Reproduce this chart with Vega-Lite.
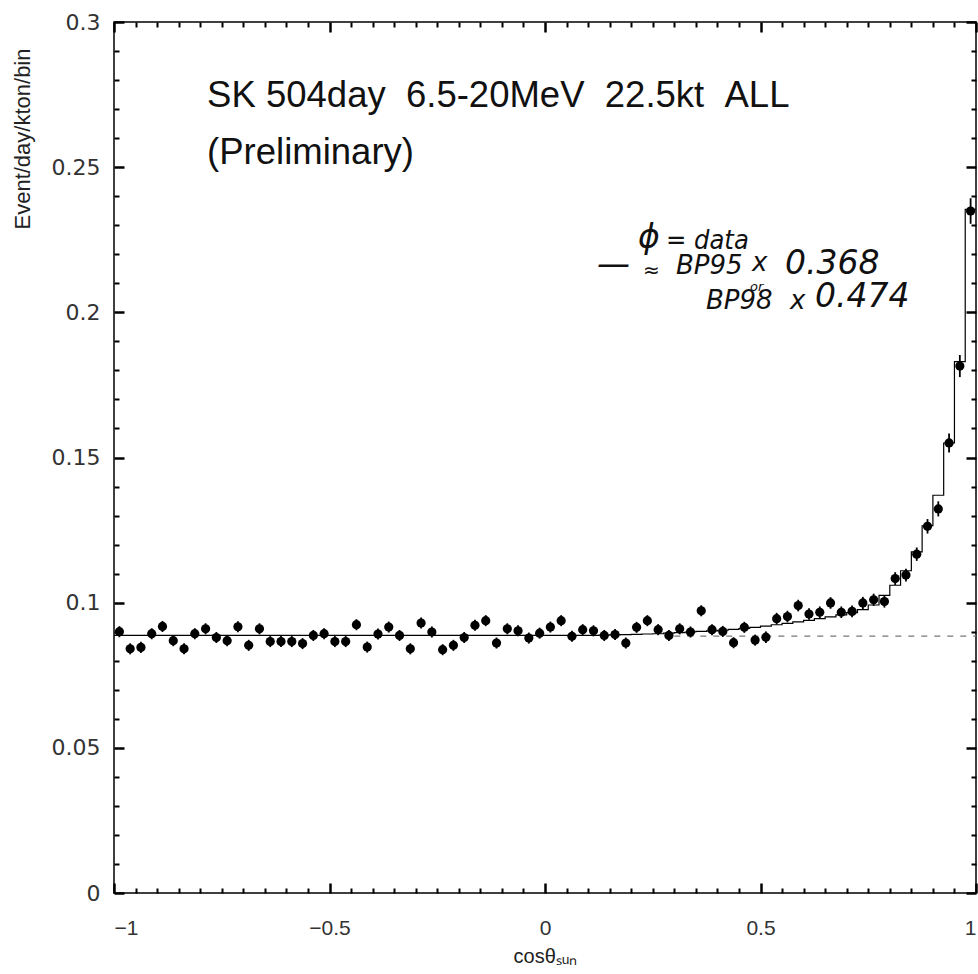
{
  "$schema": "https://vega.github.io/schema/vega-lite/v6.json",
  "width": 862,
  "height": 871,
  "autosize": "none",
  "padding": {"left": 114, "top": 22, "right": 2, "bottom": 81},
  "background": "white",
  "config": {
    "view": {"stroke": "black", "strokeWidth": 1.5},
    "axis": {"grid": false, "domain": false, "ticks": true, "zindex": 2, "tickOpacity": 1, "labelColor": "#333", "labelFont": "Liberation Sans", "titleFont": "Liberation Sans", "titleFontWeight": "normal", "titleColor": "#222"}
  },
  "datasets": {
    "bins": [
      {"cos": -0.9875, "rate": 0.0900, "lo": 0.0881, "hi": 0.0919},
      {"cos": -0.9625, "rate": 0.0841, "lo": 0.0822, "hi": 0.0860},
      {"cos": -0.9375, "rate": 0.0846, "lo": 0.0827, "hi": 0.0865},
      {"cos": -0.9125, "rate": 0.0893, "lo": 0.0874, "hi": 0.0912},
      {"cos": -0.8875, "rate": 0.0918, "lo": 0.0899, "hi": 0.0937},
      {"cos": -0.8625, "rate": 0.0869, "lo": 0.0850, "hi": 0.0888},
      {"cos": -0.8375, "rate": 0.0841, "lo": 0.0822, "hi": 0.0860},
      {"cos": -0.8125, "rate": 0.0893, "lo": 0.0874, "hi": 0.0912},
      {"cos": -0.7875, "rate": 0.0910, "lo": 0.0891, "hi": 0.0929},
      {"cos": -0.7625, "rate": 0.0880, "lo": 0.0861, "hi": 0.0899},
      {"cos": -0.7375, "rate": 0.0869, "lo": 0.0850, "hi": 0.0888},
      {"cos": -0.7125, "rate": 0.0917, "lo": 0.0898, "hi": 0.0936},
      {"cos": -0.6875, "rate": 0.0853, "lo": 0.0834, "hi": 0.0872},
      {"cos": -0.6625, "rate": 0.0910, "lo": 0.0891, "hi": 0.0929},
      {"cos": -0.6375, "rate": 0.0866, "lo": 0.0847, "hi": 0.0885},
      {"cos": -0.6125, "rate": 0.0866, "lo": 0.0847, "hi": 0.0885},
      {"cos": -0.5875, "rate": 0.0866, "lo": 0.0847, "hi": 0.0885},
      {"cos": -0.5625, "rate": 0.0859, "lo": 0.0840, "hi": 0.0878},
      {"cos": -0.5375, "rate": 0.0887, "lo": 0.0868, "hi": 0.0906},
      {"cos": -0.5125, "rate": 0.0893, "lo": 0.0874, "hi": 0.0912},
      {"cos": -0.4875, "rate": 0.0866, "lo": 0.0847, "hi": 0.0885},
      {"cos": -0.4625, "rate": 0.0866, "lo": 0.0847, "hi": 0.0885},
      {"cos": -0.4375, "rate": 0.0924, "lo": 0.0905, "hi": 0.0943},
      {"cos": -0.4125, "rate": 0.0847, "lo": 0.0828, "hi": 0.0866},
      {"cos": -0.3875, "rate": 0.0892, "lo": 0.0873, "hi": 0.0911},
      {"cos": -0.3625, "rate": 0.0916, "lo": 0.0897, "hi": 0.0935},
      {"cos": -0.3375, "rate": 0.0887, "lo": 0.0868, "hi": 0.0906},
      {"cos": -0.3125, "rate": 0.0841, "lo": 0.0822, "hi": 0.0860},
      {"cos": -0.2875, "rate": 0.0930, "lo": 0.0911, "hi": 0.0949},
      {"cos": -0.2625, "rate": 0.0899, "lo": 0.0880, "hi": 0.0918},
      {"cos": -0.2375, "rate": 0.0838, "lo": 0.0819, "hi": 0.0857},
      {"cos": -0.2125, "rate": 0.0853, "lo": 0.0834, "hi": 0.0872},
      {"cos": -0.1875, "rate": 0.0880, "lo": 0.0861, "hi": 0.0899},
      {"cos": -0.1625, "rate": 0.0922, "lo": 0.0903, "hi": 0.0941},
      {"cos": -0.1375, "rate": 0.0938, "lo": 0.0919, "hi": 0.0957},
      {"cos": -0.1125, "rate": 0.0861, "lo": 0.0842, "hi": 0.0880},
      {"cos": -0.0875, "rate": 0.0910, "lo": 0.0891, "hi": 0.0929},
      {"cos": -0.0625, "rate": 0.0903, "lo": 0.0884, "hi": 0.0922},
      {"cos": -0.0375, "rate": 0.0878, "lo": 0.0859, "hi": 0.0897},
      {"cos": -0.0125, "rate": 0.0895, "lo": 0.0876, "hi": 0.0914},
      {"cos": 0.0125, "rate": 0.0916, "lo": 0.0897, "hi": 0.0935},
      {"cos": 0.0375, "rate": 0.0938, "lo": 0.0919, "hi": 0.0957},
      {"cos": 0.0625, "rate": 0.0884, "lo": 0.0865, "hi": 0.0903},
      {"cos": 0.0875, "rate": 0.0907, "lo": 0.0888, "hi": 0.0926},
      {"cos": 0.1125, "rate": 0.0903, "lo": 0.0884, "hi": 0.0922},
      {"cos": 0.1375, "rate": 0.0887, "lo": 0.0868, "hi": 0.0906},
      {"cos": 0.1625, "rate": 0.0890, "lo": 0.0871, "hi": 0.0909},
      {"cos": 0.1875, "rate": 0.0861, "lo": 0.0842, "hi": 0.0880},
      {"cos": 0.2125, "rate": 0.0915, "lo": 0.0896, "hi": 0.0934},
      {"cos": 0.2375, "rate": 0.0938, "lo": 0.0919, "hi": 0.0957},
      {"cos": 0.2625, "rate": 0.0907, "lo": 0.0888, "hi": 0.0926},
      {"cos": 0.2875, "rate": 0.0887, "lo": 0.0868, "hi": 0.0906},
      {"cos": 0.3125, "rate": 0.0910, "lo": 0.0891, "hi": 0.0929},
      {"cos": 0.3375, "rate": 0.0899, "lo": 0.0880, "hi": 0.0918},
      {"cos": 0.3625, "rate": 0.0972, "lo": 0.0953, "hi": 0.0991},
      {"cos": 0.3875, "rate": 0.0907, "lo": 0.0888, "hi": 0.0926},
      {"cos": 0.4125, "rate": 0.0901, "lo": 0.0882, "hi": 0.0920},
      {"cos": 0.4375, "rate": 0.0862, "lo": 0.0843, "hi": 0.0881},
      {"cos": 0.4625, "rate": 0.0915, "lo": 0.0896, "hi": 0.0934},
      {"cos": 0.4875, "rate": 0.0871, "lo": 0.0852, "hi": 0.0890},
      {"cos": 0.5125, "rate": 0.0881, "lo": 0.0861, "hi": 0.0901},
      {"cos": 0.5375, "rate": 0.0945, "lo": 0.0925, "hi": 0.0965},
      {"cos": 0.5625, "rate": 0.0952, "lo": 0.0932, "hi": 0.0972},
      {"cos": 0.5875, "rate": 0.0990, "lo": 0.0970, "hi": 0.1010},
      {"cos": 0.6125, "rate": 0.0961, "lo": 0.0941, "hi": 0.0981},
      {"cos": 0.6375, "rate": 0.0967, "lo": 0.0947, "hi": 0.0987},
      {"cos": 0.6625, "rate": 0.0999, "lo": 0.0979, "hi": 0.1019},
      {"cos": 0.6875, "rate": 0.0967, "lo": 0.0947, "hi": 0.0987},
      {"cos": 0.7125, "rate": 0.0970, "lo": 0.0950, "hi": 0.0990},
      {"cos": 0.7375, "rate": 0.0999, "lo": 0.0978, "hi": 0.1020},
      {"cos": 0.7625, "rate": 0.1010, "lo": 0.0989, "hi": 0.1031},
      {"cos": 0.7875, "rate": 0.1004, "lo": 0.0983, "hi": 0.1025},
      {"cos": 0.8125, "rate": 0.1083, "lo": 0.1061, "hi": 0.1105},
      {"cos": 0.8375, "rate": 0.1095, "lo": 0.1073, "hi": 0.1117},
      {"cos": 0.8625, "rate": 0.1167, "lo": 0.1144, "hi": 0.1190},
      {"cos": 0.8875, "rate": 0.1263, "lo": 0.1238, "hi": 0.1288},
      {"cos": 0.9125, "rate": 0.1323, "lo": 0.1297, "hi": 0.1349},
      {"cos": 0.9375, "rate": 0.1550, "lo": 0.1517, "hi": 0.1583},
      {"cos": 0.9625, "rate": 0.1815, "lo": 0.1777, "hi": 0.1853},
      {"cos": 0.9875, "rate": 0.2349, "lo": 0.2305, "hi": 0.2393}
    ],
    "mc": [
      {"edge": -1.0, "mc": 0.0887}, {"edge": -0.975, "mc": 0.0887}, {"edge": -0.95, "mc": 0.0887}, {"edge": -0.925, "mc": 0.0887},
      {"edge": -0.9, "mc": 0.0887}, {"edge": -0.875, "mc": 0.0887}, {"edge": -0.85, "mc": 0.0887}, {"edge": -0.825, "mc": 0.0887},
      {"edge": -0.8, "mc": 0.0887}, {"edge": -0.775, "mc": 0.0887}, {"edge": -0.75, "mc": 0.0887}, {"edge": -0.725, "mc": 0.0887},
      {"edge": -0.7, "mc": 0.0887}, {"edge": -0.675, "mc": 0.0887}, {"edge": -0.65, "mc": 0.0887}, {"edge": -0.625, "mc": 0.0887},
      {"edge": -0.6, "mc": 0.0887}, {"edge": -0.575, "mc": 0.0887}, {"edge": -0.55, "mc": 0.0887}, {"edge": -0.525, "mc": 0.0887},
      {"edge": -0.5, "mc": 0.0887}, {"edge": -0.475, "mc": 0.0887}, {"edge": -0.45, "mc": 0.0887}, {"edge": -0.425, "mc": 0.0887},
      {"edge": -0.4, "mc": 0.0887}, {"edge": -0.375, "mc": 0.0887}, {"edge": -0.35, "mc": 0.0887}, {"edge": -0.325, "mc": 0.0887},
      {"edge": -0.3, "mc": 0.0887}, {"edge": -0.275, "mc": 0.0887}, {"edge": -0.25, "mc": 0.0887}, {"edge": -0.225, "mc": 0.0887},
      {"edge": -0.2, "mc": 0.0887}, {"edge": -0.175, "mc": 0.0887}, {"edge": -0.15, "mc": 0.0887}, {"edge": -0.125, "mc": 0.0887},
      {"edge": -0.1, "mc": 0.0887}, {"edge": -0.075, "mc": 0.0887}, {"edge": -0.05, "mc": 0.0887}, {"edge": -0.025, "mc": 0.0887},
      {"edge": 0.0, "mc": 0.0887}, {"edge": 0.025, "mc": 0.0887}, {"edge": 0.05, "mc": 0.0887}, {"edge": 0.075, "mc": 0.0887},
      {"edge": 0.1, "mc": 0.0887}, {"edge": 0.125, "mc": 0.0888}, {"edge": 0.15, "mc": 0.0889}, {"edge": 0.175, "mc": 0.0890},
      {"edge": 0.2, "mc": 0.0891}, {"edge": 0.225, "mc": 0.0892}, {"edge": 0.25, "mc": 0.0893}, {"edge": 0.275, "mc": 0.0895},
      {"edge": 0.3, "mc": 0.0897}, {"edge": 0.325, "mc": 0.0899}, {"edge": 0.35, "mc": 0.0901}, {"edge": 0.375, "mc": 0.0903},
      {"edge": 0.4, "mc": 0.0905}, {"edge": 0.425, "mc": 0.0908}, {"edge": 0.45, "mc": 0.0911}, {"edge": 0.475, "mc": 0.0915},
      {"edge": 0.5, "mc": 0.0919}, {"edge": 0.525, "mc": 0.0924}, {"edge": 0.55, "mc": 0.0929}, {"edge": 0.575, "mc": 0.0934},
      {"edge": 0.6, "mc": 0.0939}, {"edge": 0.625, "mc": 0.0945}, {"edge": 0.65, "mc": 0.0951}, {"edge": 0.675, "mc": 0.0958},
      {"edge": 0.7, "mc": 0.0966}, {"edge": 0.725, "mc": 0.0976}, {"edge": 0.75, "mc": 0.0992}, {"edge": 0.775, "mc": 0.1025},
      {"edge": 0.8, "mc": 0.1060}, {"edge": 0.825, "mc": 0.1110}, {"edge": 0.85, "mc": 0.1175}, {"edge": 0.875, "mc": 0.1265},
      {"edge": 0.9, "mc": 0.1370}, {"edge": 0.925, "mc": 0.1550}, {"edge": 0.95, "mc": 0.1830}, {"edge": 0.975, "mc": 0.2355},
      {"edge": 1.0, "mc": 0.2355}
    ]
  },
  "resolve": {"axis": {"x": "independent", "y": "independent"}},
  "layer": [
    {
      "data": {"values": [{"from": 0.3, "to": 1.0, "level": 0.0885}]},
      "mark": {"type": "rule", "color": "#777", "strokeWidth": 1.3, "strokeDash": [6, 7]},
      "encoding": {
        "x": {"field": "from", "type": "quantitative", "scale": {"domain": [-1, 1], "nice": false, "zero": false},
          "axis": {"orient": "bottom", "values": [-1, -0.5, 0, 0.5, 1], "tickSize": 10, "offset": -10, "tickColor": "black", "tickWidth": 2.5, "labelPadding": 24, "labelFontSize": 21, "format": "~g",
            "title": "cosθₛᵤₙ", "titleFontSize": 20, "titlePadding": 8}},
        "x2": {"field": "to"},
        "y": {"field": "level", "type": "quantitative", "scale": {"domain": [0, 0.3], "nice": false},
          "axis": {"orient": "left", "values": [0, 0.05, 0.1, 0.15, 0.2, 0.25, 0.3], "tickSize": 10, "offset": -10, "tickColor": "black", "tickWidth": 2.5, "labelPadding": 14, "labelFontSize": 22, "labelFont": "DejaVu Sans", "format": "~g",
            "title": "Event/day/kton/bin", "titleFontSize": 22, "titleAnchor": "end", "titleX": -102, "titleY": 26, "titleBaseline": "middle", "titleAngle": -90, "titleAlign": "right"}}
      }
    },
    {
      "data": {"name": "mc"},
      "mark": {"type": "line", "interpolate": "step-after", "color": "black", "strokeWidth": 1.2},
      "encoding": {
        "x": {"field": "edge", "type": "quantitative", "scale": {"domain": [-1, 1], "nice": false, "zero": false},
          "axis": {"orient": "top", "values": [-1, -0.5, 0, 0.5, 1], "tickSize": 10, "offset": -10, "tickColor": "black", "tickWidth": 2.5, "labels": false, "title": null}},
        "y": {"field": "mc", "type": "quantitative", "scale": {"domain": [0, 0.3], "nice": false},
          "axis": {"orient": "right", "values": [0, 0.05, 0.1, 0.15, 0.2, 0.25, 0.3], "tickSize": 10, "offset": -10, "tickColor": "black", "tickWidth": 2.5, "labels": false, "title": null}}
      }
    },
    {
      "data": {"name": "bins"},
      "mark": {"type": "rule", "color": "black", "strokeWidth": 1.8},
      "encoding": {
        "x": {"field": "cos", "type": "quantitative", "scale": {"domain": [-1, 1], "nice": false, "zero": false},
          "axis": {"orient": "top", "values": [-0.95, -0.9, -0.85, -0.8, -0.75, -0.7, -0.65, -0.6, -0.55, -0.45, -0.4, -0.35, -0.3, -0.25, -0.2, -0.15, -0.1, -0.05, 0.05, 0.1, 0.15, 0.2, 0.25, 0.3, 0.35, 0.4, 0.45, 0.55, 0.6, 0.65, 0.7, 0.75, 0.8, 0.85, 0.9, 0.95], "tickSize": 5, "offset": -5, "tickColor": "black", "tickWidth": 2, "labels": false, "title": null}},
        "y": {"field": "lo", "type": "quantitative", "scale": {"domain": [0, 0.3], "nice": false},
          "axis": {"orient": "right", "values": [0.01, 0.02, 0.03, 0.04, 0.06, 0.07, 0.08, 0.09, 0.11, 0.12, 0.13, 0.14, 0.16, 0.17, 0.18, 0.19, 0.21, 0.22, 0.23, 0.24, 0.26, 0.27, 0.28, 0.29], "tickSize": 5, "offset": -5, "tickColor": "black", "tickWidth": 2, "labels": false, "title": null}},
        "y2": {"field": "hi"}
      }
    },
    {
      "data": {"name": "bins"},
      "mark": {"type": "circle", "color": "black", "opacity": 1, "size": 85},
      "encoding": {
        "x": {"field": "cos", "type": "quantitative", "scale": {"domain": [-1, 1], "nice": false, "zero": false},
          "axis": {"orient": "bottom", "values": [-0.95, -0.9, -0.85, -0.8, -0.75, -0.7, -0.65, -0.6, -0.55, -0.45, -0.4, -0.35, -0.3, -0.25, -0.2, -0.15, -0.1, -0.05, 0.05, 0.1, 0.15, 0.2, 0.25, 0.3, 0.35, 0.4, 0.45, 0.55, 0.6, 0.65, 0.7, 0.75, 0.8, 0.85, 0.9, 0.95], "tickSize": 5, "offset": -5, "tickColor": "black", "tickWidth": 2, "labels": false, "title": null}},
        "y": {"field": "rate", "type": "quantitative", "scale": {"domain": [0, 0.3], "nice": false},
          "axis": {"orient": "left", "values": [0.01, 0.02, 0.03, 0.04, 0.06, 0.07, 0.08, 0.09, 0.11, 0.12, 0.13, 0.14, 0.16, 0.17, 0.18, 0.19, 0.21, 0.22, 0.23, 0.24, 0.26, 0.27, 0.28, 0.29], "tickSize": 5, "offset": -5, "tickColor": "black", "tickWidth": 2, "labels": false, "title": null}}
      }
    },
    {
      "data": {"values": [
        {"x": -0.784, "y": 0.2707, "label": "SK 504day\u00a0\u00a06.5-20MeV\u00a0\u00a022.5kt\u00a0\u00a0ALL"},
        {"x": -0.784, "y": 0.251, "label": "(Preliminary)"}
      ]},
      "mark": {"type": "text", "align": "left", "baseline": "alphabetic", "font": "Liberation Sans", "fontSize": 36.5, "color": "#111"},
      "encoding": {
        "x": {"field": "x", "type": "quantitative", "scale": {"domain": [-1, 1], "nice": false, "zero": false}, "axis": null},
        "y": {"field": "y", "type": "quantitative", "scale": {"domain": [0, 0.3], "nice": false}, "axis": null},
        "text": {"field": "label"}
      }
    },
    {
      "data": {"values": [
        {"x": 0.2807, "y": 0.2217, "label": "= data"}
      ]},
      "mark": {"type": "text", "align": "left", "baseline": "alphabetic", "font": "DejaVu Sans Condensed", "fontStyle": "italic", "fontSize": 27, "color": "#111"},
      "encoding": {
        "x": {"field": "x", "type": "quantitative", "scale": {"domain": [-1, 1], "nice": false, "zero": false}, "axis": null},
        "y": {"field": "y", "type": "quantitative", "scale": {"domain": [0, 0.3], "nice": false}, "axis": null},
        "text": {"field": "label"}
      }
    },
    {
      "data": {"values": [
        {"x": 0.3039, "y": 0.2131, "label": "BP95"},
        {"x": 0.4803, "y": 0.2141, "label": "x"},
        {"x": 0.3735, "y": 0.2010, "label": "BP98"},
        {"x": 0.5684, "y": 0.2010, "label": "x"}
      ]},
      "mark": {"type": "text", "align": "left", "baseline": "alphabetic", "font": "DejaVu Sans", "fontStyle": "italic", "fontSize": 26, "color": "#111"},
      "encoding": {
        "x": {"field": "x", "type": "quantitative", "scale": {"domain": [-1, 1], "nice": false, "zero": false}, "axis": null},
        "y": {"field": "y", "type": "quantitative", "scale": {"domain": [0, 0.3], "nice": false}, "axis": null},
        "text": {"field": "label"}
      }
    },
    {
      "data": {"values": [
        {"x": 0.2158, "y": 0.2220, "label": "ɸ"},
        {"x": 0.1206, "y": 0.2128, "label": "—"},
        {"x": 0.5568, "y": 0.2131, "label": "0.368"},
        {"x": 0.6265, "y": 0.2017, "label": "0.474"}
      ]},
      "mark": {"type": "text", "align": "left", "baseline": "alphabetic", "font": "DejaVu Sans", "fontStyle": "italic", "fontSize": 33, "color": "#111"},
      "encoding": {
        "x": {"field": "x", "type": "quantitative", "scale": {"domain": [-1, 1], "nice": false, "zero": false}, "axis": null},
        "y": {"field": "y", "type": "quantitative", "scale": {"domain": [0, 0.3], "nice": false}, "axis": null},
        "text": {"field": "label"}
      }
    },
    {
      "data": {"values": [{"x": 0.2274, "y": 0.2121, "label": "≈"}]},
      "mark": {"type": "text", "align": "left", "baseline": "alphabetic", "font": "DejaVu Sans", "fontSize": 20, "color": "#111"},
      "encoding": {
        "x": {"field": "x", "type": "quantitative", "scale": {"domain": [-1, 1], "nice": false, "zero": false}, "axis": null},
        "y": {"field": "y", "type": "quantitative", "scale": {"domain": [0, 0.3], "nice": false}, "axis": null},
        "text": {"field": "label"}
      }
    },
    {
      "data": {"values": [{"x": 0.4756, "y": 0.2072, "label": "or"}]},
      "mark": {"type": "text", "align": "left", "baseline": "alphabetic", "font": "DejaVu Sans", "fontStyle": "italic", "fontSize": 13, "color": "#111"},
      "encoding": {
        "x": {"field": "x", "type": "quantitative", "scale": {"domain": [-1, 1], "nice": false, "zero": false}, "axis": null},
        "y": {"field": "y", "type": "quantitative", "scale": {"domain": [0, 0.3], "nice": false}, "axis": null},
        "text": {"field": "label"}
      }
    }
  ]
}
